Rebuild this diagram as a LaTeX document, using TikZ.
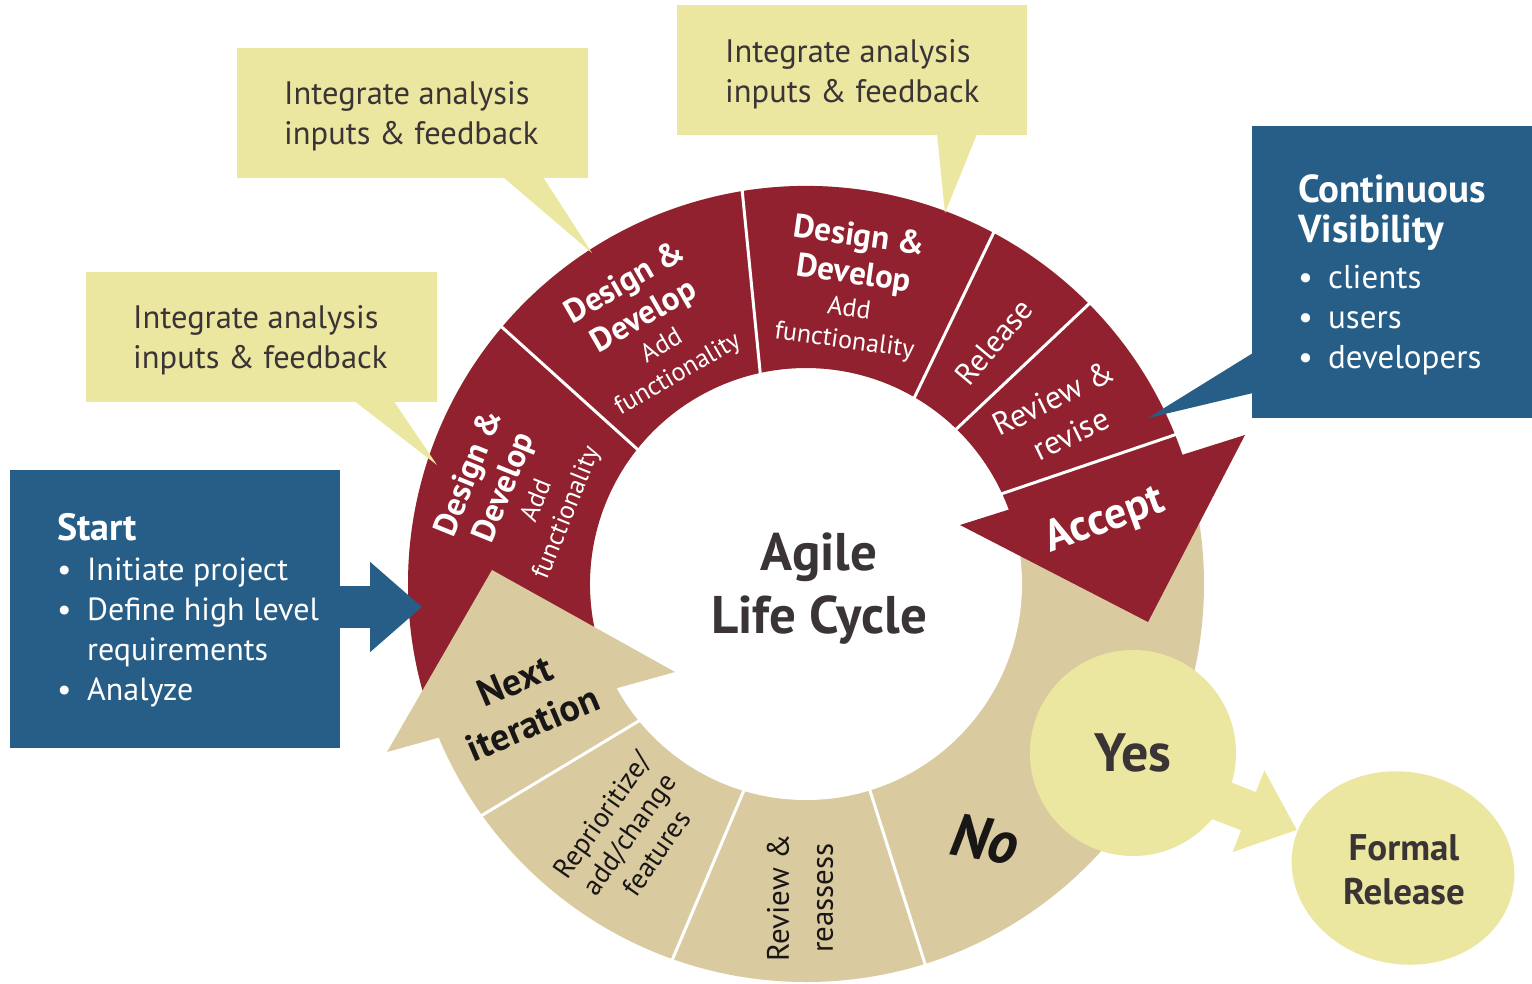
\documentclass[tikz,border=0pt]{standalone}
\usepackage{fontspec}
\setmainfont{PT Sans}
\usetikzlibrary{arrows.meta,shapes.geometric}
\definecolor{redc}{RGB}{145,33,46}
\definecolor{tanc}{RGB}{218,202,160}
\definecolor{yelc}{RGB}{236,231,160}
\definecolor{bluec}{RGB}{39,94,135}
\definecolor{darkc}{RGB}{58,52,54}
\definecolor{inkc}{RGB}{25,22,22}
\newcommand{\fsz}[2]{\fontsize{#1}{#2}\selectfont}
\newcommand{\BD}[1]{{\bfseries\fontsize{33}{38}\selectfont #1}}
\newcommand{\bul}{\makebox[30pt][l]{\textbullet}}
\newcommand{\leftlines}[1]{\begin{tabular}[t]{@{}l@{}}#1\end{tabular}}
\begin{document}
\begin{tikzpicture}[x=1pt,y=-1pt,
  divider/.style={white,line width=3pt},
  ringtext/.style={inner sep=0,align=center},
  boxtext/.style={inner sep=0,anchor=base west},
  panel/.style={inner sep=0,anchor=north west}]
\useasboundingbox (0,0) rectangle (1532,983);
\fill[white] (0,0) rectangle (1532,983);

% ---------------- ring ----------------
\begin{scope}[shift={(806,584)},y=1pt]
  \fill[tanc] (0,0) circle[radius=398];
  \fill[white] (0,0) circle[radius=216];
  \fill[redc] (17:398) arc[start angle=17,end angle=200,radius=398]
     -- (206:216) arc[start angle=206,end angle=18.5,radius=216] -- cycle;
  % arrowheads
  \fill[redc] (154,59) -- (439,149) -- (342,-38) -- cycle;
  \fill[tanc] (-419,-168) -- (-314,14) -- (-131,-88) -- cycle;
  % dividers
  \draw[divider] (141.4:214) -- (139.8:400);
  \draw[divider] (102.3:214) -- (99.2:400);
  \draw[divider] (59.8:214) -- (61.9:400);
  \draw[divider] (45.9:214) -- (44.7:400);
  \draw[divider] (24.8:214) -- (22.0:400);
  \draw[divider] (219.4:214) -- (215.5:400);
  \draw[divider] (253.3:214) -- (250.4:400);
  \draw[divider] (287.2:214) -- (287.4:400);
  % segment texts
  \node[ringtext,rotate=68,text=white,font=\fsz{26}{32}] (dd1) at (-289,91)
    {\BD{Design \&}\\[6pt]\BD{Develop}\\[1pt]Add\\functionality};
  \node[ringtext,rotate=30,text=white,font=\fsz{26}{32}] (dd2) at (-155,256)
    {\BD{Design \&}\\[6pt]\BD{Develop}\\[1pt]Add\\functionality};
  \node[ringtext,rotate=-8,text=white,font=\fsz{26}{32}] (dd3) at (46,296)
    {\BD{Design \&}\\[6pt]\BD{Develop}\\[1pt]Add\\functionality};
  \node[ringtext,rotate=50,text=white,font=\fsz{31}{38}] (release) at (188,242) {Release};
  \node[ringtext,rotate=26,text=white,font=\fsz{32}{40}] (revise) at (256,168) {Review \&\\revise};
  \node[ringtext,rotate=20,text=white,font=\bfseries\fsz{44}{50}] (accept) at (299,63) {Accept};
  \node[ringtext,rotate=23,text=inkc,font=\bfseries\fsz{38}{46}] (next) at (-282,-118) {Next\\iteration};
  \node[ringtext,rotate=55,text=inkc,font=\fsz{28}{33}] (repri) at (-177,-250) {Reprioritize/\\add/change\\features};
  \node[ringtext,rotate=90,text=inkc,font=\fsz{31}{44}] (reassess) at (-6,-314) {Review \&\\reassess};
  \node[ringtext,rotate=-9,text=inkc,font=\bfseries\itshape\fsz{60}{66}] (no) at (179,-255) {No};
\end{scope}

% ---------------- centre title ----------------
\node[text=darkc,font=\bfseries\fsz{53}{63},align=center,inner sep=0] (title) at (819,589) {Agile\\Life Cycle};

% ---------------- callouts ----------------
\node[panel,fill=yelc,minimum width=351pt,minimum height=130pt] (calloutA) at (86,272) {};
\fill[yelc] (353,400) -- (437,465) -- (393,400) -- cycle;
\node[boxtext,text=darkc,font=\fsz{32.5}{40}] (calloutAtext) at (133,328) {\leftlines{Integrate analysis\\inputs \& feedback}};

\node[panel,fill=yelc,minimum width=351pt,minimum height=130pt] (calloutB) at (237,48) {};
\fill[yelc] (503,177) -- (592,253) -- (543,177) -- cycle;
\node[boxtext,text=darkc,font=\fsz{32.5}{40}] (calloutBtext) at (284,104) {\leftlines{Integrate analysis\\inputs \& feedback}};

\node[panel,fill=yelc,minimum width=350pt,minimum height=130pt] (calloutC) at (677,5) {};
\fill[yelc] (937,134) -- (945,213) -- (977,134) -- cycle;
\node[boxtext,text=darkc,font=\fsz{32.5}{40}] (calloutCtext) at (725,62) {\leftlines{Integrate analysis\\inputs \& feedback}};

% ---------------- start box ----------------
\node[panel,fill=bluec,minimum width=330pt,minimum height=278pt] (startbox) at (10,470) {};
\coordinate (startTip) at (422,607);
\draw[bluec,line width=42pt,-{Triangle[width=87pt,length=52pt]}] (startbox.east |- startTip) -- (startTip);
\node[boxtext,text=white,font=\fsz{32}{40}] (starttext) at (57,540)
  {\leftlines{{\bfseries\fsz{38}{40}Start}\\\bul Initiate project\\\bul Define high level\\\hspace*{30pt}requirements\\\bul Analyze}};

% ---------------- visibility box ----------------
\node[panel,fill=bluec,minimum width=280pt,minimum height=292pt] (visbox) at (1252,126) {};
\fill[bluec] (1253,353) -- (1148,418) -- (1253,393) -- cycle;
\node[boxtext,text=white,font=\fsz{33}{40}] (vistext) at (1298,202)
  {\leftlines{{\bfseries\fsz{39}{40}Continuous}\\{\bfseries\fsz{39}{40}Visibility}\\[6pt]\bul clients\\\bul users\\\bul developers}};

% ---------------- yes / formal release ----------------
\coordinate (yesArrowStart) at (1150,773);
\coordinate (formalTip) at (1297,830);
\draw[yelc,line width=41pt,-{Triangle[width=84pt,length=52pt]}] (yesArrowStart) -- (formalTip);
\node[circle,fill=yelc,minimum size=206pt,inner sep=0,text=darkc,font=\bfseries\fsz{54}{60}] (yes) at (1133,753) {Yes};
\node[ellipse,fill=yelc,minimum width=224pt,minimum height=192pt,inner sep=0,rotate=-12] (formalShape) at (1403,868) {};
\node[text=darkc,font=\bfseries\fsz{37}{44},align=center,inner sep=0] (formal) at (1404,870) {Formal\\Release};
\end{tikzpicture}
\end{document}
